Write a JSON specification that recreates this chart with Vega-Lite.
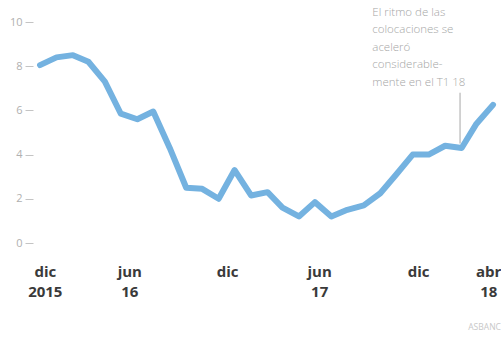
{
  "$schema": "https://vega.github.io/schema/vega-lite/v6.json",
  "width": 453,
  "height": 221,
  "autosize": {"type": "none"},
  "padding": {"left": 40, "top": 22, "right": 8, "bottom": 96},
  "background": "#ffffff",
  "config": {"view": {"stroke": null}, "font": "Open Sans"},
  "title": {
    "text": "ASBANC",
    "orient": "bottom",
    "anchor": "end",
    "offset": 24,
    "fontSize": 8.5,
    "fontWeight": "normal",
    "color": "#c8c8c8",
    "font": "Open Sans"
  },
  "datasets": {
    "serie": [
      {"date": "2015-12-01", "value": 8.05},
      {"date": "2016-01-01", "value": 8.4},
      {"date": "2016-02-01", "value": 8.5},
      {"date": "2016-03-01", "value": 8.2},
      {"date": "2016-04-01", "value": 7.3},
      {"date": "2016-05-01", "value": 5.85},
      {"date": "2016-06-01", "value": 5.6},
      {"date": "2016-07-01", "value": 5.95},
      {"date": "2016-08-01", "value": 4.3},
      {"date": "2016-09-01", "value": 2.5},
      {"date": "2016-10-01", "value": 2.45},
      {"date": "2016-11-01", "value": 2.0},
      {"date": "2016-12-01", "value": 3.3},
      {"date": "2017-01-01", "value": 2.15},
      {"date": "2017-02-01", "value": 2.3},
      {"date": "2017-03-01", "value": 1.6},
      {"date": "2017-04-01", "value": 1.2},
      {"date": "2017-05-01", "value": 1.85},
      {"date": "2017-06-01", "value": 1.2},
      {"date": "2017-07-01", "value": 1.5},
      {"date": "2017-08-01", "value": 1.7},
      {"date": "2017-09-01", "value": 2.25},
      {"date": "2017-10-01", "value": 3.1},
      {"date": "2017-11-01", "value": 4.0},
      {"date": "2017-12-01", "value": 4.0},
      {"date": "2018-01-01", "value": 4.4},
      {"date": "2018-02-01", "value": 4.3},
      {"date": "2018-03-01", "value": 5.4},
      {"date": "2018-04-01", "value": 6.25}
    ],
    "nota": [
      {"date": "2017-08-17", "value": 10.7, "texto": ["El ritmo de las", "colocaciones se", "aceleró", "considerable-", "mente en el T1 18"]}
    ],
    "guia": [
      {"date": "2018-01-29", "y1": 4.5, "y2": 6.8}
    ]
  },
  "layer": [
    {
      "data": {"name": "serie"},
      "mark": {"type": "line", "color": "#74b2e0", "strokeWidth": 6, "strokeJoin": "round", "strokeCap": "round"},
      "encoding": {
        "x": {
          "field": "date",
          "type": "temporal",
          "scale": {"type": "utc", "domain": [{"year": 2015, "month": 12, "date": 1, "utc": true}, {"year": 2018, "month": 4, "date": 1, "utc": true}], "nice": false},
          "axis": {
            "title": null,
            "domain": false,
            "ticks": false,
            "grid": false,
            "labelPadding": 21,
            "labelFontSize": 15,
            "labelFontWeight": "bold",
            "labelColor": "#3a3a3a",
            "labelLineHeight": 20,
            "labelBaseline": "top",
            "labelFlush": false,
            "labelOverlap": false,
            "values": [
              {"year": 2015, "month": 12, "date": 10, "utc": true},
              {"year": 2016, "month": 5, "date": 17, "utc": true},
              {"year": 2016, "month": 11, "date": 17, "utc": true},
              {"year": 2017, "month": 5, "date": 9, "utc": true},
              {"year": 2017, "month": 11, "date": 11, "utc": true},
              {"year": 2018, "month": 3, "date": 23, "utc": true}
            ],
            "labelExpr": "utcFormat(datum.value,'%Y-%m')=='2015-12' ? ['dic','2015'] : utcFormat(datum.value,'%Y-%m')=='2016-05' ? ['jun','16'] : utcFormat(datum.value,'%Y-%m')=='2016-11' ? 'dic' : utcFormat(datum.value,'%Y-%m')=='2017-05' ? ['jun','17'] : utcFormat(datum.value,'%Y-%m')=='2017-11' ? 'dic' : ['abr','18']"
          }
        },
        "y": {
          "field": "value",
          "type": "quantitative",
          "scale": {"domain": [0, 10], "nice": false, "zero": true},
          "axis": {
            "title": null,
            "domain": false,
            "grid": false,
            "values": [0, 2, 4, 6, 8, 10],
            "offset": 7,
            "tickSize": 8,
            "tickColor": "#c4c4c4",
            "tickWidth": 1,
            "labelPadding": 3,
            "labelAlign": "right",
            "labelFontSize": 11,
            "labelColor": "#b0b0b0"
          }
        }
      }
    },
    {
      "data": {"name": "guia"},
      "mark": {"type": "rule", "color": "#a8a8a8", "strokeWidth": 1},
      "encoding": {
        "x": {"field": "date", "type": "temporal"},
        "y": {"field": "y1", "type": "quantitative"},
        "y2": {"field": "y2"}
      }
    },
    {
      "data": {"name": "nota"},
      "mark": {"type": "text", "align": "left", "baseline": "top", "fontSize": 11.5, "lineHeight": 17.5, "color": "#a6a6a6", "font": "Open Sans", "fontWeight": 300},
      "encoding": {
        "x": {"field": "date", "type": "temporal"},
        "y": {"field": "value", "type": "quantitative"},
        "text": {"field": "texto"}
      }
    }
  ]
}
